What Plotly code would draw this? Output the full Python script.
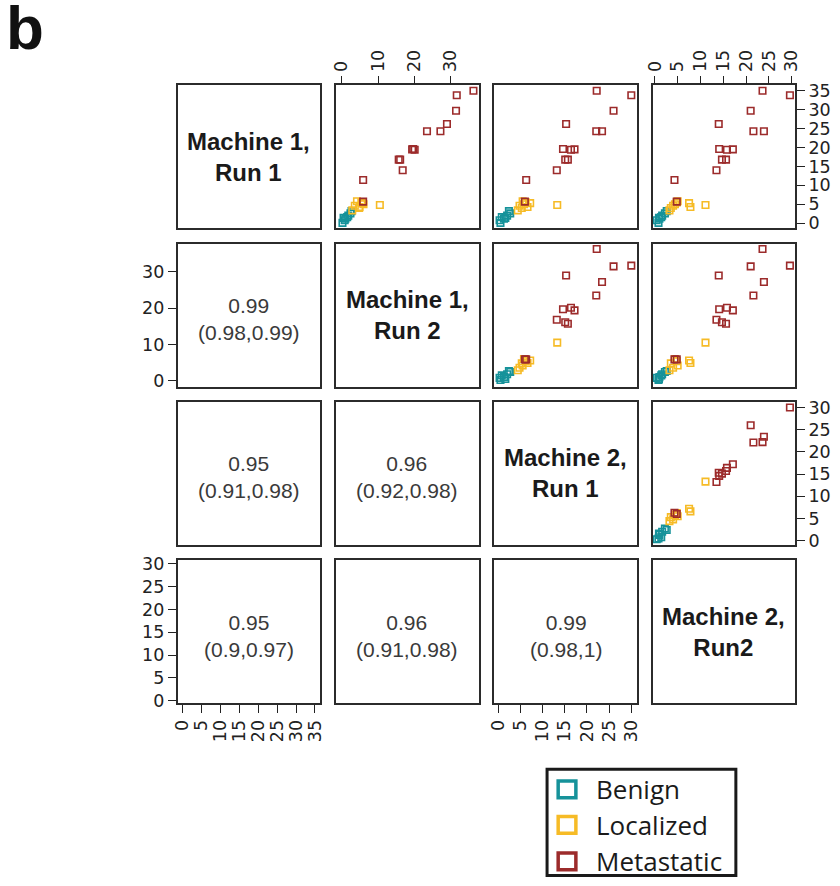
import plotly.graph_objects as go

# ---- data: one list per group and per measurement (Machine/Run) ----
benign_m1r1 = [0.1, 0.8, 1.2, 1.6, 2.0, 2.6, 3.2, 1.4]
benign_m1r2 = [0.2, 0.8, 1.0, 1.5, 1.8, 2.4, 2.7, 0.5]
benign_m2r1 = [0.5, 0.3, 1.3, 0.8, 2.0, 2.7, 2.4, 1.6]
benign_m2r2 = [0.8, 0.4, 1.0, 1.4, 1.6, 2.2, 2.6, 0.9]

localized_m1r1 = [4.8, 5.3, 4.3, 5.8, 5.5, 4.6, 4.0, 3.4, 5.0]
localized_m1r2 = [10.5, 5.6, 4.9, 4.2, 5.4, 3.6, 4.8, 2.9, 6.0]
localized_m2r1 = [13.3, 7.2, 6.6, 5.5, 6.2, 4.8, 5.3, 4.4, 5.8]
localized_m2r2 = [11.1, 7.5, 7.8, 5.0, 4.8, 4.0, 3.5, 3.2, 4.4]

metastatic_m1r1 = [35.0, 33.8, 29.7, 26.2, 24.3, 24.3, 19.6, 19.4, 19.5, 16.8, 16.8, 14.0, 11.4, 5.7]
metastatic_m1r2 = [36.3, 31.7, 31.5, 29.0, 27.2, 23.5, 19.7, 20.1, 19.4, 16.1, 15.7, 16.8, 5.9, 5.9]
metastatic_m2r1 = [22.2, 30.0, 26.0, 15.3, 23.4, 22.1, 14.6, 16.4, 17.2, 15.1, 15.7, 13.2, 6.3, 6.0]
metastatic_m2r2 = [23.6, 29.6, 21.0, 14.0, 23.9, 21.6, 14.1, 15.8, 17.1, 14.7, 15.6, 13.5, 4.3, 4.8]

variable_names = ["Machine 1,<br>Run 1", "Machine 1,<br>Run 2",
                  "Machine 2,<br>Run 1", "Machine 2,<br>Run2"]
group_names = ["Benign", "Localized", "Metastatic"]

# correlation (95% CI) shown in the lower triangle, keyed by (row, col)
corr_values = {(1, 0): "0.99", (2, 0): "0.95", (2, 1): "0.96",
               (3, 0): "0.95", (3, 1): "0.96", (3, 2): "0.99"}
corr_intervals = {(1, 0): "(0.98,0.99)", (2, 0): "(0.91,0.98)", (2, 1): "(0.92,0.98)",
                  (3, 0): "(0.9,0.97)", (3, 1): "(0.91,0.98)", (3, 2): "(0.98,1)"}

# tick values per variable
tick_values = [[0, 5, 10, 15, 20, 25, 30, 35],
               [0, 10, 20, 30],
               [0, 5, 10, 15, 20, 25, 30],
               [0, 5, 10, 15, 20, 25, 30]]

# ---- styling / layout ----
group_colors = ["#16929a", "#f6bb26", "#9c2b2b"]
axis_ranges = [[-1.3, 36.4], [-1.6, 37.7], [-0.9, 31.25], [-0.5, 30.75]]

W, H = 840, 886
col_left = [172.5, 333.5, 494.5, 655.5]
row_top = [80.7, 241.7, 402.3, 563.3]
PANEL = 145
LINE = "#2b2b2b"
TICKFONT = dict(family="DejaVu Sans", size=17.5, color="#222222")

# which panels carry tick labels (alternating sides, as in a pairs plot)
x_tick_side = {(0, 1): "top", (0, 3): "top", (3, 0): "bottom", (3, 2): "bottom"}
y_tick_side = {(0, 3): "right", (2, 3): "right", (1, 0): "left", (3, 0): "left"}

groups = [
    [benign_m1r1, benign_m1r2, benign_m2r1, benign_m2r2],
    [localized_m1r1, localized_m1r2, localized_m2r1, localized_m2r2],
    [metastatic_m1r1, metastatic_m1r2, metastatic_m2r1, metastatic_m2r2],
]

fig = go.Figure()
layout = {}
annotations = []
shapes = []


def suffix(i, j):
    n = i * 4 + j + 1
    return "" if n == 1 else str(n)


def px(x):
    return x / W


def py(y):
    return 1 - y / H


for i in range(4):
    for j in range(4):
        s = suffix(i, j)
        x0, x1 = px(col_left[j]), px(col_left[j] + PANEL)
        y0, y1 = py(row_top[i] + PANEL), py(row_top[i])
        xa = dict(domain=[x0, x1], anchor="y" + s, range=axis_ranges[j],
                  showline=True, mirror=True, linecolor=LINE, linewidth=1.6,
                  showgrid=False, zeroline=False, ticks="", showticklabels=False,
                  fixedrange=True)
        ya = dict(domain=[y0, y1], anchor="x" + s, range=axis_ranges[i],
                  showline=True, mirror=True, linecolor=LINE, linewidth=1.6,
                  showgrid=False, zeroline=False, ticks="", showticklabels=False,
                  fixedrange=True)
        if (i, j) in x_tick_side:
            xa.update(side=x_tick_side[(i, j)], ticks="outside", ticklen=8,
                      tickwidth=1.2, tickcolor="#222222", showticklabels=True,
                      tickmode="array", tickvals=tick_values[j],
                      ticktext=[str(v) for v in tick_values[j]],
                      tickangle=-90, tickfont=TICKFONT)
        if (i, j) in y_tick_side:
            ya.update(side=y_tick_side[(i, j)], ticks="outside", ticklen=8,
                      tickwidth=1.2, tickcolor="#222222", showticklabels=True,
                      tickmode="array", tickvals=tick_values[i],
                      ticktext=[str(v) for v in tick_values[i]],
                      tickfont=TICKFONT)
        layout["xaxis" + s] = xa
        layout["yaxis" + s] = ya

        # an empty trace so every panel (and its frame) is drawn
        fig.add_trace(go.Scatter(x=[None], y=[None], mode="markers",
                                 xaxis="x" + s, yaxis="y" + s,
                                 showlegend=False, hoverinfo="skip"))

        cx, cy = (x0 + x1) / 2, (y0 + y1) / 2
        if i == j:
            annotations.append(dict(x=cx, y=cy, xref="paper", yref="paper",
                                    text="<b>" + variable_names[i] + "</b>",
                                    showarrow=False, xanchor="center", yanchor="middle",
                                    font=dict(family="Liberation Sans", size=24, color="#1a1a1a")))
        elif i > j:
            annotations.append(dict(x=cx, y=cy - 4 / H, xref="paper", yref="paper",
                                    text=corr_values[(i, j)] + "<br>" + corr_intervals[(i, j)],
                                    showarrow=False, xanchor="center", yanchor="middle",
                                    font=dict(family="Liberation Sans", size=21, color="#3a3a3a")))
        else:
            for g, vals in enumerate(groups):
                fig.add_trace(go.Scatter(
                    x=vals[j], y=vals[i], mode="markers",
                    xaxis="x" + s, yaxis="y" + s, showlegend=False,
                    name=group_names[g], hoverinfo="skip",
                    marker=dict(symbol="square-open", size=6.5,
                                color=group_colors[g], line=dict(width=1.6, color=group_colors[g]))))

# legend: framed box with open-square keys
shapes.append(dict(type="rect", xref="paper", yref="paper",
                   x0=px(548.2), x1=px(740.2), y0=py(883.5), y1=py(775.5),
                   line=dict(color="#1a1a1a", width=3), fillcolor="white", layer="above"))
key_centers = [796, 832, 869]
for g in range(3):
    yc = key_centers[g]
    shapes.append(dict(type="rect", xref="paper", yref="paper",
                       x0=px(559.5), x1=px(577.5), y0=py(yc + 8.5), y1=py(yc - 8.5),
                       line=dict(color=group_colors[g], width=3.5), layer="above"))
    annotations.append(dict(x=px(596), y=py(yc), xref="paper", yref="paper",
                            text=group_names[g], showarrow=False,
                            xanchor="left", yanchor="middle",
                            font=dict(family="Open Sans", size=26, color="#1a1a1a")))

# panel letter
annotations.append(dict(x=px(17), y=py(22), xref="paper", yref="paper", text="<b>b</b>",
                        showarrow=False, xanchor="center", yanchor="middle", borderpad=0,
                        font=dict(family="Liberation Sans", size=62, color="#111111")))

fig.update_layout(
    **layout,
    width=W, height=H, autosize=False,
    margin=dict(l=0, r=0, t=0, b=0),
    paper_bgcolor="white", plot_bgcolor="white",
    annotations=annotations,
    shapes=shapes,
    showlegend=False,
)

fig.write_html("out.html")
